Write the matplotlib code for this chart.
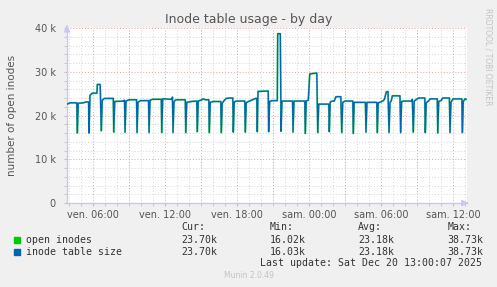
import matplotlib
matplotlib.use("Agg")
import matplotlib.pyplot as plt
from matplotlib.ticker import MultipleLocator

# hours since Friday 00:00, values in thousands of inodes
hours = [
    3.83, 4.10, 4.65, 4.69, 4.77, 5.20, 5.40, 5.63,
    5.67, 5.75, 5.95, 6.33, 6.36, 6.60,
    6.69, 6.77, 6.95, 7.69,
    7.73, 7.81, 8.55, 8.60, 8.63,
    8.67, 8.75, 9.00, 9.63,
    9.67, 9.75, 9.95, 10.63,
    10.67, 10.75, 10.95, 11.69,
    11.73, 11.81, 12.58, 12.62,
    12.67, 12.75, 12.85, 13.00, 13.69,
    13.73, 13.81, 14.20, 14.65,
    14.69, 14.77, 15.00, 15.20, 15.35, 15.65,
    15.69, 15.77, 16.00, 16.65,
    16.69, 16.77, 16.95, 17.10, 17.40, 17.65,
    17.69, 17.77, 17.95, 18.65,
    18.69, 18.77, 18.95, 19.30, 19.55, 19.65,
    19.69, 19.75, 20.60,
    20.64, 20.72, 20.90, 21.36, 21.39, 21.61,
    21.67, 21.75, 22.63,
    22.67, 22.75, 23.65,
    23.69, 23.77, 23.94, 24.06, 24.65,
    24.73, 24.81, 25.65,
    25.69, 25.77, 25.95, 26.10, 26.25, 26.65,
    26.73, 26.81, 27.00, 27.65,
    27.69, 27.77, 28.70,
    28.75, 28.83, 29.65,
    29.69, 29.77, 30.00, 30.20, 30.30, 30.44, 30.58,
    30.67, 30.75, 30.85, 30.95, 31.58,
    31.64, 31.72, 31.90, 32.55, 32.61,
    32.69, 32.77, 33.00, 33.20, 33.65,
    33.69, 33.77, 33.95, 34.10, 34.69,
    34.73, 34.81, 35.00, 35.15, 35.70,
    35.75, 35.83, 36.00, 36.74,
    36.78, 36.86, 37.00, 37.10,
]
table_size_k = [
    22.6, 22.9, 22.9, 16.0, 22.8, 22.9, 23.1, 23.1,
    16.0, 24.6, 25.1, 25.1, 27.1, 27.1,
    16.5, 23.5, 23.9, 23.9,
    16.2, 23.2, 23.3, 23.5, 23.3,
    16.2, 23.3, 23.6, 23.6,
    16.1, 23.0, 23.4, 23.4,
    16.1, 23.5, 23.7, 23.7,
    16.1, 23.8, 23.7, 24.2,
    16.1, 23.1, 23.5, 23.6, 23.6,
    16.1, 23.0, 23.2, 23.3,
    16.3, 23.3, 23.5, 23.8, 23.6, 23.6,
    16.1, 23.0, 23.2, 23.2,
    16.1, 22.8, 23.5, 23.9, 24.0, 24.0,
    16.2, 23.1, 23.3, 23.3,
    16.2, 22.9, 23.2, 23.6, 23.9, 23.9,
    16.3, 25.5, 25.6,
    16.3, 23.2, 23.4, 23.4, 38.7, 38.7,
    16.4, 23.3, 23.3,
    16.2, 23.3, 23.3,
    15.9, 23.3, 23.5, 29.5, 29.7,
    16.1, 22.6, 22.6,
    16.3, 23.1, 23.3, 23.3, 24.3, 24.3,
    16.1, 23.0, 23.3, 23.3,
    15.9, 23.0, 23.0,
    16.2, 23.0, 23.0,
    16.1, 22.9, 23.1, 23.4, 23.8, 25.4, 25.5,
    16.1, 23.0, 23.3, 24.5, 24.5,
    16.1, 23.2, 23.3, 23.3, 23.7,
    16.2, 23.3, 23.8, 24.0, 24.0,
    16.1, 22.9, 23.3, 23.8, 23.8,
    16.0, 23.2, 23.4, 24.0, 24.0,
    16.1, 23.0, 23.8, 23.8,
    16.1, 23.2, 23.8, 23.7,
]
open_inodes_k = table_size_k  # the two series overlap almost exactly

tick_hours = [6, 12, 18, 24, 30, 36]
tick_labels = ["ven. 06:00", "ven. 12:00", "ven. 18:00",
               "sam. 00:00", "sam. 06:00", "sam. 12:00"]
y_ticks = [0, 10, 20, 30, 40]
y_labels = ["0", "10 k", "20 k", "30 k", "40 k"]

series = ["open inodes", "inode table size"]
colors = ["#00CC00", "#0066B3"]
cur = ["23.70k", "23.70k"]
mins = ["16.02k", "16.03k"]
avgs = ["23.18k", "23.18k"]
maxs = ["38.73k", "38.73k"]

W, H = 497, 287
fig = plt.figure(figsize=(W / 100, H / 100), dpi=100, facecolor="#F0F0F0")
ax = fig.add_axes([67 / W, (H - 203) / H, 400 / W, 175 / H])
ax.set_facecolor("white")

ax.plot(hours, open_inodes_k, color=colors[0], lw=1.4, alpha=0.5, zorder=3)
ax.plot(hours, table_size_k, color=colors[1], lw=1.0, zorder=4)

ax.set_xlim(3.833, 37.167)
ax.set_ylim(0, 40)

# rrdtool-ish grid: grey every hour / 2k, reddish every 3 hours / 10k
ax.set_xticks(tick_hours)
ax.set_xticklabels(tick_labels)
ax.set_yticks(y_ticks)
ax.set_yticklabels(y_labels)
ax.xaxis.set_minor_locator(MultipleLocator(1))
ax.yaxis.set_minor_locator(MultipleLocator(2))
ax.grid(which="minor", color="#D6D6D6", lw=0.7, ls=(0, (1, 2)), zorder=1)
ax.grid(which="major", axis="y", color="#E8A0A0", lw=0.7, ls=(0, (1, 2)), zorder=2)
for h in range(6, 38, 3):
    ax.axvline(h, color="#E8A0A0", lw=0.7, ls=(0, (1, 2)), zorder=2)
ax.set_axisbelow(True)

ax.tick_params(axis="both", which="both", length=2, color="#C0C0C0",
               labelsize=7, labelcolor="#555555")
ax.tick_params(axis="y", pad=6)
ax.tick_params(axis="x", pad=3)

for s in ["top", "right"]:
    ax.spines[s].set_visible(False)
for s in ["left", "bottom"]:
    ax.spines[s].set_color("#C8C8F0")
    ax.spines[s].set_linewidth(1.0)

arrow = dict(arrowstyle="-|>,head_width=0.18,head_length=0.4", color="#C8C8F0", lw=1.0)
ax.annotate("", xy=(0, 1.035), xytext=(0, 0.99), xycoords="axes fraction", arrowprops=arrow)
ax.annotate("", xy=(1.012, 0), xytext=(0.99, 0), xycoords="axes fraction", arrowprops=arrow)

fig.text(249 / W, 1 - 19 / H, "Inode table usage - by day", ha="center", va="center",
         fontsize=9, color="#555555")
fig.text(12 / W, 1 - 115 / H, "number of open inodes", rotation=90, ha="center",
         va="center", fontsize=7.5, color="#555555")
fig.text(488 / W, 1 - 57 / H, "RRDTOOL / TOBI OETIKER", rotation=270, ha="center",
         va="center", fontsize=5.5, color="#C4C4C4")

mono = dict(family="DejaVu Sans Mono", fontsize=7.1, color="#333333", va="center")
col_x = [181.7, 270, 358.3, 447.3]
for x, head in zip(col_x, ["Cur:", "Min:", "Avg:", "Max:"]):
    fig.text(x / W, 1 - 227.5 / H, head, **mono)
for i, name in enumerate(series):
    y = 240 + 11.8 * i
    fig.patches.append(plt.Rectangle((14 / W, 1 - (y + 3) / H), 6 / W, 6 / H,
                                     transform=fig.transFigure, color=colors[i]))
    fig.text(26 / W, 1 - y / H, name, **mono)
    for x, val in zip(col_x, [cur[i], mins[i], avgs[i], maxs[i]]):
        fig.text(x / W, 1 - y / H, val, **mono)

fig.text(482.5 / W, 1 - 263.3 / H, "Last update: Sat Dec 20 13:00:07 2025",
         ha="right", **mono)
fig.text(249 / W, 1 - 276 / H, "Munin 2.0.49", ha="center", va="center",
         fontsize=5.5, color="#C4C4C4")

fig.savefig("out.png", dpi=100, facecolor=fig.get_facecolor())
